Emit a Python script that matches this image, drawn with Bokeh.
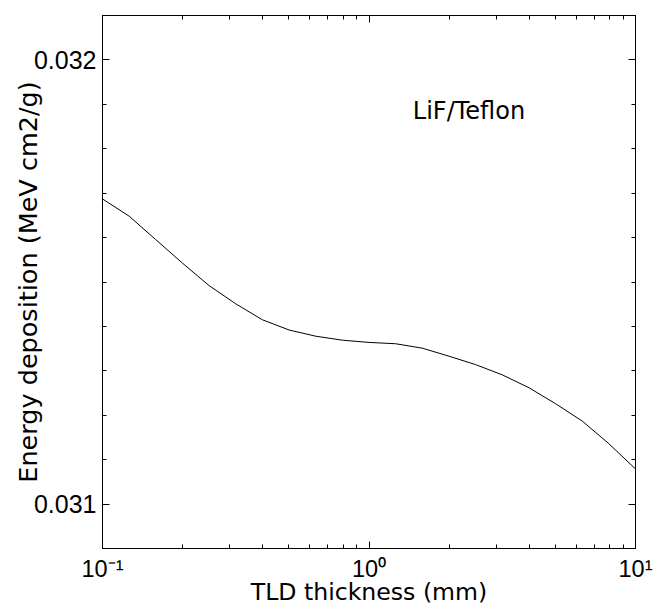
from bokeh.plotting import figure
from bokeh.models import (FixedTicker, LogAxis, LinearAxis, Label, Range1d,
                          PrintfTickFormatter)
from bokeh.embed import file_html
from bokeh.resources import INLINE
import numpy as np

# data
thickness_mm = [0.1, 0.126, 0.158, 0.2, 0.251, 0.316, 0.398, 0.501, 0.631, 0.794,
                1.0, 1.259, 1.585, 1.995, 2.512, 3.162, 3.981, 5.012, 6.310, 7.943, 10.0]
energy_dep = [0.031687, 0.031648, 0.031596, 0.031542, 0.031492, 0.031451, 0.031415,
              0.031392, 0.031378, 0.031369, 0.031364, 0.031361, 0.031351, 0.031333,
              0.031314, 0.031291, 0.031262, 0.031226, 0.031187, 0.031136, 0.031079]
x_major = [0.1, 1.0, 10.0]
x_major_labels = ["10\u207b\u00b9", "10\u2070", "10\u00b9"]
y_major = [0.031, 0.032]
annotation_text = "LiF/Teflon"

NUM_FONT = "Liberation Sans"
TXT_FONT = "DejaVu Sans"

p = figure(width=653, height=612, x_axis_type="log",
           x_range=Range1d(0.1, 10), y_range=Range1d(0.0309, 0.0321),
           output_backend="svg", toolbar_location=None,
           min_border_left=102, min_border_right=18, min_border_top=15,
           min_border_bottom=64)
p.grid.visible = False
p.outline_line_color = "black"
p.outline_line_width = 1
p.background_fill_color = "white"
p.border_fill_color = "white"

x_minor = [m * 10.0 ** e for e in (-1, 0) for m in range(2, 10)]
y_minor = list(np.round(np.arange(0.0309, 0.03211, 0.0001), 5))


def style_axis(ax):
    ax.axis_line_color = "black"
    ax.major_tick_line_color = "black"
    ax.minor_tick_line_color = "black"
    ax.major_tick_in = 7
    ax.major_tick_out = 0
    ax.minor_tick_in = 4
    ax.minor_tick_out = 0


# bottom axis
xa = p.xaxis[0]
xa.ticker = FixedTicker(ticks=x_major, minor_ticks=x_minor)
style_axis(xa)
xa.major_label_overrides = dict(zip(x_major, x_major_labels))
xa.major_label_text_font = NUM_FONT
xa.major_label_text_font_size = "23.5px"
xa.major_label_text_color = "black"
xa.major_label_standoff = 7
xa.axis_label = "TLD thickness (mm)"
xa.axis_label_text_font = TXT_FONT
xa.axis_label_text_font_size = "23.6px"
xa.axis_label_text_font_style = "normal"
xa.axis_label_text_color = "black"
xa.axis_label_standoff = -7

# left axis (bounds shift the label centre slightly downward, as in the reference)
ya = p.yaxis[0]
ya.ticker = FixedTicker(ticks=y_major, minor_ticks=y_minor)
style_axis(ya)
ya.bounds = (0.0309, 0.032028)
ya.formatter = PrintfTickFormatter(format="%.3f")
ya.major_label_text_font = NUM_FONT
ya.major_label_text_font_size = "25px"
ya.major_label_text_color = "black"
ya.major_label_standoff = 6
ya.axis_label = "Energy deposition (MeV cm2/g)"
ya.axis_label_text_font = TXT_FONT
ya.axis_label_text_font_size = "25.5px"
ya.axis_label_text_font_style = "normal"
ya.axis_label_text_color = "black"
ya.axis_label_standoff = -12

# top and right mirrored axes
top = LogAxis(ticker=FixedTicker(ticks=x_major, minor_ticks=x_minor))
style_axis(top)
top.major_label_overrides = {t: "" for t in x_major}
top.major_label_standoff = 0
p.add_layout(top, "above")

right = LinearAxis(ticker=FixedTicker(ticks=y_major, minor_ticks=y_minor))
style_axis(right)
right.major_label_overrides = {t: "" for t in y_major}
right.major_label_standoff = 0
p.add_layout(right, "right")

# curve
p.line(thickness_mm, energy_dep, line_color="black", line_width=1)

# annotation
p.add_layout(Label(x=1.46, y=0.031884, text=annotation_text, text_align="left",
                   text_baseline="alphabetic", text_font=TXT_FONT,
                   text_font_size="24px", text_color="black"))

open("out.html", "w").write(file_html(p, INLINE))
